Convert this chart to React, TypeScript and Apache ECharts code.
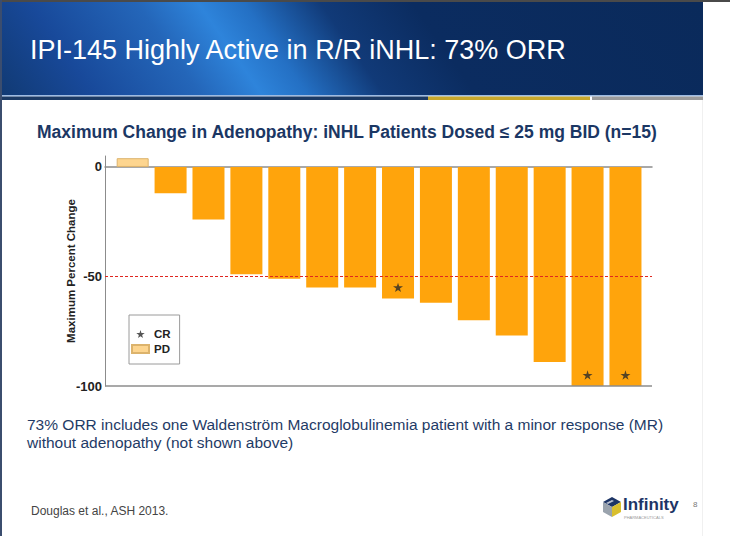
import React, { useEffect, useRef } from 'react';
import * as echarts from 'echarts';

const slideTitle = 'IPI-145 Highly Active in R/R iNHL: 73% ORR';
const chartTitle = 'Maximum Change in Adenopathy: iNHL Patients Dosed ≤ 25 mg BID (n=15)';
const footnoteLines = [
  '73% ORR includes one Waldenström Macroglobulinemia patient with a minor response (MR)',
  'without adenopathy (not shown above)',
];
const citation = 'Douglas et al., ASH 2013.';
const pageNumber = '8';
const yAxisName = 'Maximum Percent Change';
const yTickLabels = [-100, -50, 0];
const responseThreshold = -50;

const patients = [1, 2, 3, 4, 5, 6, 7, 8, 9, 10, 11, 12, 13, 14];
const maxChange = [4, -12, -24, -49, -51, -55, -55, -60, -62, -70, -77, -89, -100, -100];
const pdPatients = [1];
const crPatients = [8, 13, 14];

const STAR = 'path://M50,0 L61,35 L98,35 L68,57 L79,91 L50,70 L21,91 L32,57 L2,35 L39,35 Z';
const NARROW = '"Liberation Sans Narrow", "Liberation Sans", Arial, sans-serif';
const SANS = '"Liberation Sans", Arial, sans-serif';

export default function App() {
  const ref = useRef<HTMLDivElement>(null);
  useEffect(() => {
    if (!ref.current) return;
    const chart = echarts.init(ref.current, null, { renderer: 'svg' });
    const pdData = patients.filter((p) => pdPatients.includes(p)).map((p) => [p, maxChange[p - 1]]);
    const respData = patients.filter((p) => !pdPatients.includes(p)).map((p) => [p, maxChange[p - 1]]);
    const crData = crPatients.map((p) => [p, maxChange[p - 1]]);

    const headerFill = new echarts.graphic.LinearGradient(
      2,
      95,
      516,
      -264.6,
      [
        { offset: 0, color: '#113a74' },
        { offset: 0.12, color: '#18499a' },
        { offset: 0.26, color: '#2466b9' },
        { offset: 0.34, color: '#2e84db' },
        { offset: 0.4, color: '#2470c4' },
        { offset: 0.5, color: '#113a78' },
        { offset: 0.62, color: '#0b2c60' },
        { offset: 1, color: '#0a2a5b' },
      ],
      true
    );

    chart.setOption({
      animation: false,
      backgroundColor: '#ffffff',
      grid: { left: 105, right: 78, top: 156, bottom: 150 },
      xAxis: {
        type: 'value',
        min: 0.27,
        max: 14.7,
        axisLine: { show: true, onZero: true, lineStyle: { color: '#8c8c8c', width: 1.5 } },
        axisTick: { show: false },
        axisLabel: { show: false },
        splitLine: { show: false },
      },
      yAxis: {
        type: 'value',
        min: -100,
        max: 5,
        interval: 50,
        name: yAxisName,
        nameLocation: 'middle',
        nameGap: 28,
        nameMoveOverlap: false,
        nameTextStyle: { fontFamily: NARROW, fontWeight: 'bold', fontSize: 11.5, color: '#222' },
        axisLine: { show: true, lineStyle: { color: '#8c8c8c', width: 1 } },
        axisTick: { show: false },
        splitLine: { show: false },
        axisLabel: {
          customValues: yTickLabels,
          fontFamily: NARROW,
          fontWeight: 'bold',
          fontSize: 13,
          color: '#222',
          margin: 3,
        },
      },
      legend: {
        data: [
          { name: 'CR', icon: STAR },
          { name: 'PD', icon: 'rect' },
        ],
        orient: 'vertical',
        left: 129,
        top: 315,
        padding: [13, 9, 9, 2],
        itemWidth: 17,
        itemHeight: 8,
        itemGap: 3,
        borderColor: '#9a9a9a',
        borderWidth: 1,
        backgroundColor: '#ffffff',
        selectedMode: false,
        textStyle: { fontFamily: NARROW, fontWeight: 'bold', fontSize: 11.5, color: '#222' },
      },
      series: [
        {
          name: 'PD',
          type: 'bar',
          stack: 'all',
          barWidth: 32,
          data: pdData,
          itemStyle: { color: '#fdd58f', borderColor: '#dcb36c', borderWidth: 1 },
        },
        {
          name: 'Response',
          type: 'bar',
          stack: 'all',
          barWidth: 32,
          data: respData,
          itemStyle: { color: '#ffa40c' },
          markLine: {
            silent: true,
            symbol: 'none',
            label: { show: false },
            data: [
              { yAxis: responseThreshold, lineStyle: { color: '#e0261f', type: [3, 2], width: 1.2 } },
              { yAxis: -100, lineStyle: { color: '#8c8c8c', type: 'solid', width: 1.5 } },
            ],
          },
        },
        {
          name: 'CR',
          type: 'scatter',
          data: crData,
          symbol: STAR,
          symbolKeepAspect: true,
          symbolSize: 10,
          symbolOffset: [0, -11],
          itemStyle: { color: '#2a2a2a' },
          z: 5,
        },
      ],
      graphic: [
        { type: 'rect', shape: { x: 0, y: 0, width: 730, height: 2 }, style: { fill: '#4a4a4a' } },
        { type: 'rect', shape: { x: 0, y: 0, width: 2, height: 536 }, style: { fill: '#3b4d6e' } },
        { type: 'rect', shape: { x: 2, y: 2, width: 701, height: 93 }, style: { fill: headerFill } },
        { type: 'rect', shape: { x: 2, y: 95, width: 701, height: 1.5 }, style: { fill: '#9dbbe3' } },
        { type: 'rect', shape: { x: 2, y: 96.5, width: 426, height: 3.5 }, style: { fill: '#1c3a64' } },
        { type: 'rect', shape: { x: 428, y: 96.5, width: 162, height: 3.5 }, style: { fill: '#c8a82c' } },
        { type: 'rect', shape: { x: 592, y: 96.5, width: 111, height: 3.5 }, style: { fill: '#9b9b9b' } },
        { type: 'line', shape: { x1: 702.5, y1: 100, x2: 702.5, y2: 536 }, style: { stroke: '#f0f0f0', lineWidth: 1 } },
        {
          type: 'text',
          x: 30,
          y: 50,
          style: { text: slideTitle, fill: '#ffffff', font: `27px ${SANS}`, verticalAlign: 'middle' },
        },
        {
          type: 'text',
          x: 37,
          y: 132,
          style: { text: chartTitle, fill: '#1b3764', font: `bold 17.5px ${SANS}`, verticalAlign: 'middle' },
        },
        ...footnoteLines.map((t, i) => ({
          type: 'text',
          x: 27,
          y: 424 + i * 18,
          style: { text: t, fill: '#1f3b66', font: `15.5px ${SANS}`, verticalAlign: 'middle' },
        })),
        {
          type: 'text',
          x: 31,
          y: 511,
          style: { text: citation, fill: '#444444', font: `12px ${SANS}`, verticalAlign: 'middle' },
        },
        // logo
        { type: 'polygon', shape: { points: [[603, 502], [612, 497], [621, 502], [612, 507]] }, style: { fill: '#1d3566' } },
        { type: 'polygon', shape: { points: [[603, 502], [612, 507], [612, 517], [603, 512]] }, style: { fill: '#9aa3ad' } },
        { type: 'polygon', shape: { points: [[612, 507], [621, 502], [621, 512], [612, 517]] }, style: { fill: '#d9bf2e' } },
        { type: 'polygon', shape: { points: [[606, 503], [612, 500], [614, 501], [608, 504]] }, style: { fill: '#ffffff', opacity: 0.7 } },
        {
          type: 'text',
          x: 623,
          y: 504,
          style: { text: 'Infinity', fill: '#1d3566', font: `bold 17px ${SANS}`, verticalAlign: 'middle' },
        },
        {
          type: 'text',
          x: 624,
          y: 517,
          style: { text: 'PHARMACEUTICALS', fill: '#9a9a9a', font: `4px ${SANS}`, verticalAlign: 'middle' },
        },
        {
          type: 'text',
          x: 693,
          y: 504,
          style: { text: pageNumber, fill: '#777777', font: `8px ${SANS}`, verticalAlign: 'middle' },
        },
      ],
    });
    return () => chart.dispose();
  }, []);
  return <div ref={ref} style={{ position: 'absolute', left: 0, top: 0, width: 730, height: 536 }} />;
}
